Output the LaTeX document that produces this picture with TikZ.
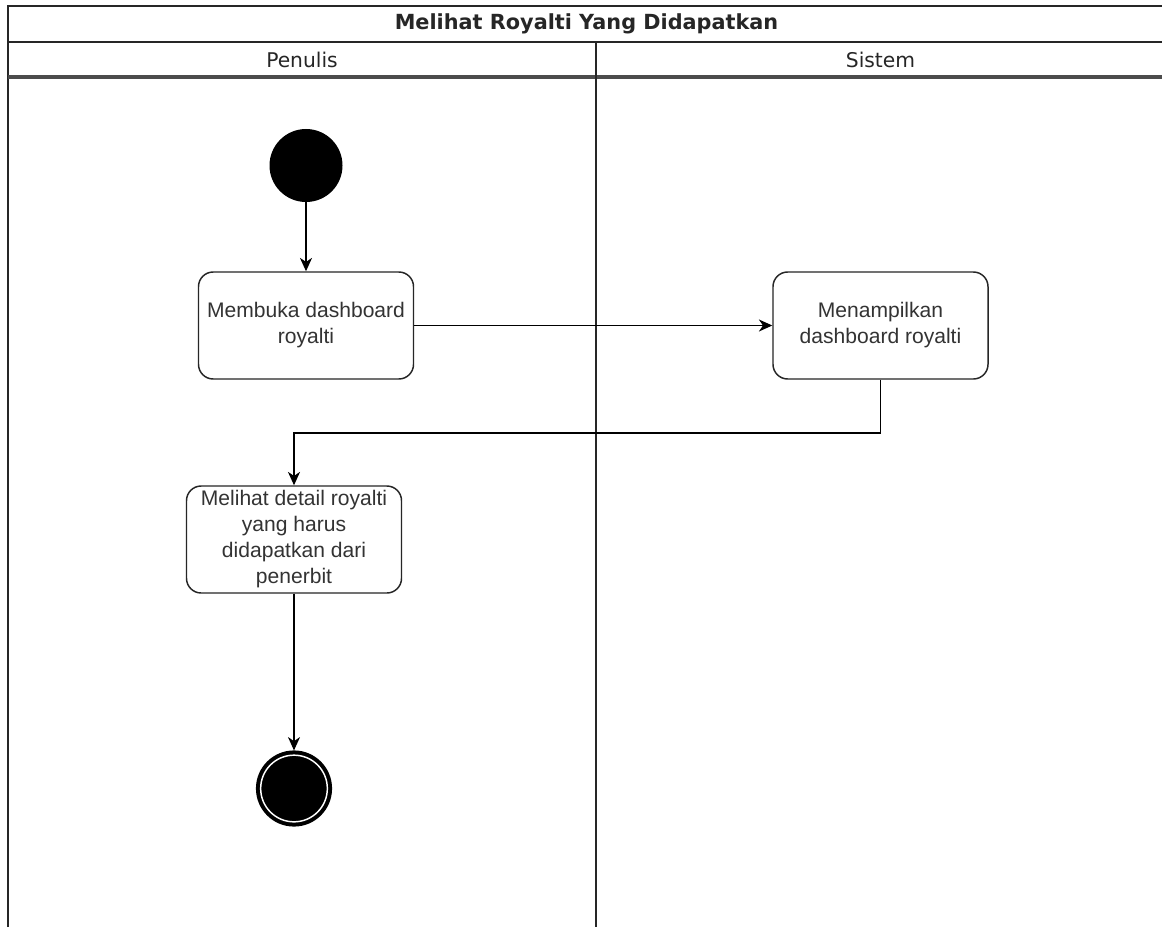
\documentclass[tikz,border=0pt]{standalone}
\usepackage{fontspec}
\setmainfont{Liberation Sans}
\newfontfamily\lanefont{DejaVu Sans}
\usetikzlibrary{arrows.meta,positioning}

\begin{document}
\begin{tikzpicture}[x=0.75pt, y=-0.75pt, >={Stealth[length=10pt,width=9pt,inset=3pt]},
  every node/.style={font=\fontsize{15.8pt}{19.5pt}\selectfont, text=black!80},
  act/.style={draw=black!85, line width=1.1pt, rounded corners=11pt, fill=white, minimum width=161.25pt, minimum height=80.25pt, align=center, inner sep=1pt},
  flow/.style={->, line width=1pt, black},
  pool/.style={line width=1.5pt, black!85},
  lanehead/.style={font=\lanefont\fontsize{15.2pt}{18pt}\selectfont, text=black!85},
  startnode/.style={circle, fill=black, minimum size=54.75pt, inner sep=0pt},
  endnode/.style={circle, fill=black, draw=black, line width=3pt, double=white, double distance=1.1pt, minimum size=50pt, inner sep=0pt, outer sep=3.55pt}]

  \useasboundingbox (0,0) rectangle (1162,927);
  \clip (0,0) rectangle (1162,927);
  \fill[white] (0,0) rectangle (1162,927);

  % ===== Pool and lanes =====
  \draw[pool] (8,927) -- (8,6) -- (1165,6) -- (1165,927);
  \draw[pool] (8,42) -- (1165,42);
  \draw[line width=2.4pt, black!70] (8,77) -- (1165,77);
  \draw[pool] (596,42) -- (596,927);

  \node[lanehead, font=\lanefont\fontsize{15.6pt}{18pt}\selectfont\bfseries] (title) at (586.5,24) {Melihat Royalti Yang Didapatkan};
  \node[lanehead] (penulis) at (302,59.5) {Penulis};
  \node[lanehead] (sistem) at (880.5,59.5) {Sistem};

  % ===== Activities =====
  \node[startnode] (start) at (306,165.5) {};
  \node[act] (buka) at (306,325.5) {Membuka dashboard\\royalti};
  \node[act] (tampil) at (880.5,325.5) {Menampilkan\\dashboard royalti};
  \node[act] (detail) at (294,539.5) {Melihat detail royalti\\yang harus\\didapatkan dari\\penerbit};
  \node[endnode] (stop) at (294,788.5) {};

  \coordinate (turn) at (880.5,433);

  % ===== Flows =====
  \draw[flow] (start) -- (buka);
  \draw[flow] (buka) -- (tampil);
  \draw[flow] (tampil.south) -- (turn) -| (detail.north);
  \draw[flow] (detail) -- (stop);

\end{tikzpicture}
\end{document}
